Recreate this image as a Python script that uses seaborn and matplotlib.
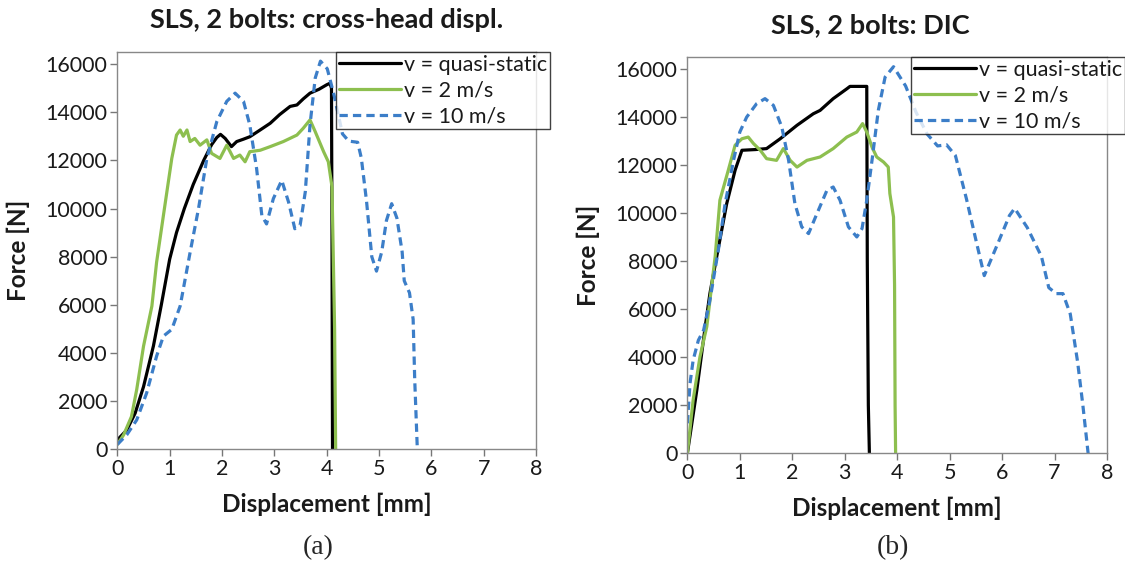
import numpy as np
import pandas as pd
import matplotlib
matplotlib.use("Agg")
import matplotlib.pyplot as plt
import seaborn as sns

# ---------------- data: panel (a) cross-head displacement ----------------
a_qs_x = [0.0, 0.18, 0.34, 0.5, 0.69, 0.84, 1.0, 1.13, 1.28, 1.45, 1.65, 1.8, 1.9, 1.97, 2.06, 2.18, 2.28, 2.41, 2.53, 2.72, 2.92, 3.1, 3.3, 3.43, 3.55, 3.68, 3.85, 4.0, 4.06, 4.09, 4.10, 4.11]
a_qs_y = [390, 800, 1500, 2600, 4300, 6000, 7900, 9000, 10000, 11000, 12000, 12650, 12950, 13080, 12910, 12570, 12780, 12880, 12980, 13250, 13540, 13900, 14240, 14300, 14550, 14790, 14950, 15140, 15200, 15000, 9000, 0]

a_2_x = [0.0, 0.12, 0.27, 0.37, 0.5, 0.66, 0.75, 0.88, 1.04, 1.13, 1.2, 1.26, 1.33, 1.39, 1.48, 1.58, 1.71, 1.8, 1.96, 2.09, 2.22, 2.34, 2.44, 2.53, 2.73, 2.92, 3.17, 3.43, 3.55, 3.68, 3.78, 3.94, 4.03, 4.1, 4.15, 4.17]
a_2_y = [200, 600, 1360, 2480, 4280, 5950, 7770, 9710, 12080, 13050, 13260, 13000, 13260, 12780, 12910, 12630, 12850, 12290, 12080, 12630, 12080, 12220, 11940, 12360, 12420, 12570, 12780, 13050, 13330, 13680, 13190, 12360, 11940, 10900, 5000, 0]

a_10_x = [0.0, 0.18, 0.37, 0.56, 0.75, 0.88, 1.04, 1.2, 1.39, 1.55, 1.71, 1.9, 2.09, 2.25, 2.41, 2.53, 2.66, 2.76, 2.85, 2.98, 3.14, 3.27, 3.39, 3.49, 3.59, 3.68, 3.78, 3.88, 4.01, 4.14, 4.3, 4.42, 4.59, 4.66, 4.76, 4.86, 4.95, 5.05, 5.14, 5.24, 5.34, 5.44, 5.48, 5.58, 5.65, 5.68, 5.73]
a_10_y = [200, 600, 1220, 2340, 3870, 4700, 4980, 5950, 8180, 9990, 12080, 13610, 14450, 14790, 14450, 13470, 11660, 9710, 9360, 10410, 11170, 10270, 9160, 9290, 10690, 13470, 15420, 16120, 15800, 14700, 13100, 12800, 12750, 12100, 10300, 8000, 7400, 8200, 9500, 10200, 9600, 8200, 7000, 6500, 5400, 2900, 0]

# ---------------- data: panel (b) DIC ----------------
b_qs_x = [0.0, 0.18, 0.34, 0.43, 0.56, 0.75, 0.91, 1.04, 1.3, 1.51, 1.77, 2.09, 2.4, 2.53, 2.78, 3.04, 3.1, 3.42, 3.43, 3.45, 3.47]
b_qs_y = [0, 2630, 5270, 6660, 8200, 10400, 11790, 12620, 12650, 12690, 13100, 13660, 14140, 14280, 14770, 15180, 15280, 15280, 8000, 2000, 0]

b_2_x = [0.0, 0.11, 0.24, 0.37, 0.53, 0.62, 0.78, 0.91, 1.04, 1.16, 1.26, 1.39, 1.51, 1.7, 1.83, 1.96, 2.09, 2.28, 2.53, 2.78, 3.04, 3.23, 3.34, 3.42, 3.52, 3.61, 3.74, 3.83, 3.86, 3.93, 3.95, 3.96, 3.97]
b_2_y = [0, 2220, 4020, 5270, 8200, 10540, 11790, 12830, 13100, 13170, 12900, 12620, 12270, 12200, 12690, 12200, 11920, 12200, 12340, 12690, 13170, 13380, 13730, 13380, 12750, 12340, 12130, 11920, 10820, 9840, 7000, 2000, 0]

b_10_x = [0.0, 0.05, 0.11, 0.21, 0.31, 0.43, 0.59, 0.72, 0.88, 1.0, 1.13, 1.32, 1.48, 1.64, 1.8, 1.93, 2.05, 2.18, 2.31, 2.47, 2.66, 2.78, 2.91, 3.07, 3.23, 3.33, 3.42, 3.52, 3.64, 3.77, 3.93, 4.16, 4.36, 4.57, 4.77, 4.94, 5.11, 5.32, 5.52, 5.66, 5.93, 6.14, 6.24, 6.48, 6.75, 6.89, 7.03, 7.16, 7.3, 7.44, 7.54, 7.64]
b_10_y = [1250, 2910, 3880, 4710, 5130, 6380, 8460, 10400, 12200, 13380, 14000, 14560, 14770, 14490, 13590, 12200, 10400, 9430, 9150, 9980, 10950, 11090, 10540, 9430, 9010, 9360, 10540, 12200, 14280, 15670, 16100, 15300, 14200, 13300, 12800, 12850, 12400, 10600, 8700, 7400, 8800, 9900, 10200, 9400, 8200, 6900, 6650, 6650, 5800, 3800, 2000, 0]

series_labels = ["v = quasi-static", "v = 2 m/s", "v = 10 m/s"]
titles = ["SLS, 2 bolts: cross-head displ.", "SLS, 2 bolts: DIC"]
panel_tags = ["(a)", "(b)"]
x_ticks = [0, 1, 2, 3, 4, 5, 6, 7, 8]
y_ticks = [0, 2000, 4000, 6000, 8000, 10000, 12000, 14000, 16000]

colors = ["#000000", "#8dbf4f", "#3c7ec8"]
dashed = [False, False, True]

sns.set_theme(style="ticks")
plt.rcParams["font.family"] = ["Lato", "DejaVu Sans"]

fig = plt.figure(figsize=(11.25, 5.62), dpi=100)
axA = fig.add_axes([0.1043, 0.2005, 0.3723, 0.707])
axB = fig.add_axes([0.611, 0.1934, 0.373, 0.705])

panels = [
    (axA, [(a_qs_x, a_qs_y), (a_2_x, a_2_y), (a_10_x, a_10_y)], 1.033, 0.5),
    (axB, [(b_qs_x, b_qs_y), (b_2_x, b_2_y), (b_10_x, b_10_y)], 1.043, 0.435),
]

for i, (ax, data, lx, tx) in enumerate(panels):
    for (xs, ys), lab, c, d in zip(data, series_labels, colors, dashed):
        df = pd.DataFrame({"x": xs, "y": ys})
        sns.lineplot(data=df, x="x", y="y", ax=ax, color=c, sort=False,
                     estimator=None, linewidth=2.3, label=lab)
        if d:
            ax.lines[-1].set_dashes((2.6, 1.6))
    ax.set_xlim(0, 8)
    ax.set_ylim(0, 16500)
    ax.set_xticks(x_ticks)
    ax.set_yticks(y_ticks)
    ax.tick_params(labelsize=15.5, length=5, width=1, color="#777777",
                   labelcolor="#1a1a1a", pad=2)
    for s in ax.spines.values():
        s.set_visible(True)
        s.set_color("#888888")
        s.set_linewidth(1.0)
    ax.set_xlabel("Displacement [mm]", fontsize=17.5, fontweight="bold", labelpad=10,
                  color="#1a1a1a")
    ax.set_ylabel("Force [N]", fontsize=17.5, fontweight="bold", labelpad=11,
                  color="#1a1a1a")
    ax.set_title(titles[i], fontsize=19.5, fontweight="bold", pad=17, color="#1a1a1a",
                 x=tx)
    leg = ax.legend(loc="upper right", bbox_to_anchor=(lx, 1.0), fontsize=15.5,
                    frameon=True, fancybox=False, handlelength=2.9, handletextpad=0.15,
                    borderpad=0.12, labelspacing=0.28, borderaxespad=0.0)
    leg.get_frame().set_edgecolor("#111111")
    leg.get_frame().set_linewidth(1.0)
    for t in leg.get_texts():
        t.set_color("#1a1a1a")
    for h in leg.get_lines():
        h.set_linewidth(2.3)

fig.text(0.283, 0.025, panel_tags[0], fontsize=20, family="Liberation Serif",
         ha="center", va="center")
fig.text(0.794, 0.025, panel_tags[1], fontsize=20, family="Liberation Serif",
         ha="center", va="center")

fig.savefig("out.png", dpi=100, facecolor="white")
